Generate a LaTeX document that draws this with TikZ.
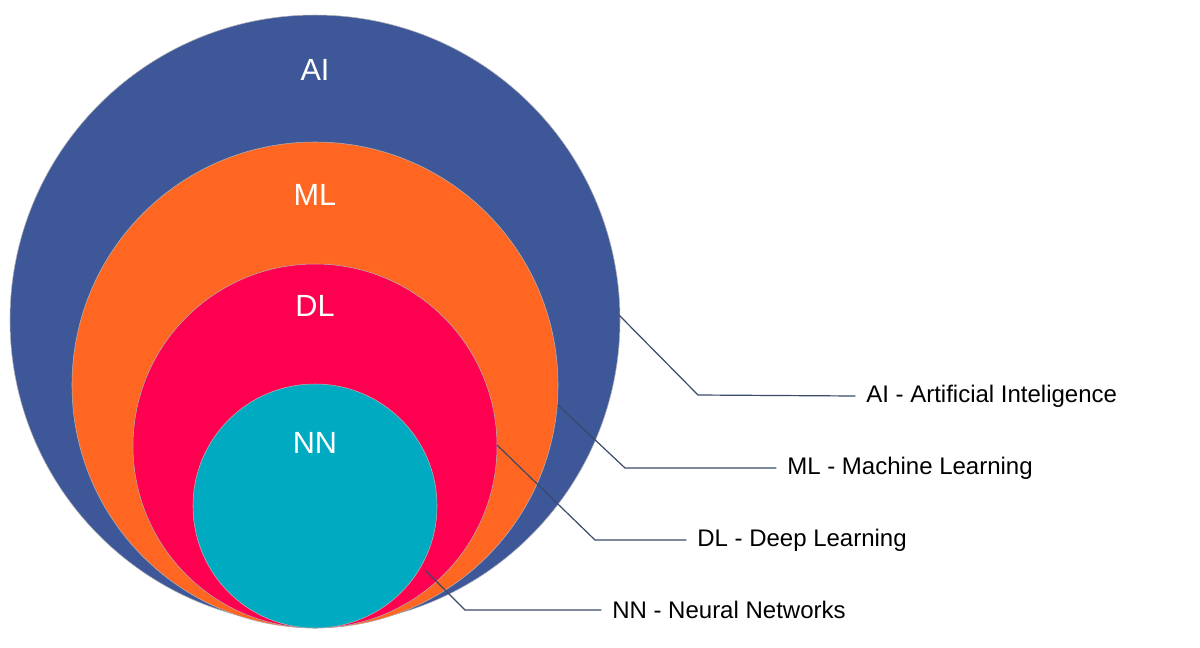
\documentclass[tikz,border=0pt]{standalone}
\usepackage{fontspec}
\setmainfont{Liberation Sans}
\definecolor{cai}{HTML}{3D5799}
\definecolor{cml}{HTML}{FF6622}
\definecolor{cdl}{HTML}{FF0050}
\definecolor{cnn}{HTML}{00AAC0}
\definecolor{cln}{HTML}{3A4A6A}
\begin{document}
\begin{tikzpicture}[x=0.75pt,y=-0.75pt,
  ring/.style={circle,draw=gray!60,line width=0.4pt,inner sep=0pt},
  big/.style={text=white,font=\fontsize{23}{27}\selectfont},
  lab/.style={anchor=west,font=\fontsize{18}{22}\selectfont,inner sep=0pt},
  ln/.style={draw=cln,line width=0.9pt}]
\useasboundingbox (0,0) rectangle (1200,647);
\fill[white] (0,0) rectangle (1200,647);
\node[ring,fill=cai,minimum size=610*0.75pt] (ai) at (315,320) {};
\node[ring,fill=cml,minimum size=486*0.75pt] (ml) at (315,385) {};
\node[ring,fill=cdl,minimum size=364*0.75pt] (dl) at (315,446) {};
\node[ring,fill=cnn,minimum size=244*0.75pt] (nn) at (315,506) {};
\node[big] (tai) at (315,70) {AI};
\node[big] (tml) at (315,195) {ML};
\node[big] (tdl) at (315,306) {DL};
\node[big] (tnn) at (315,443) {NN};
\node[lab] (lai) at (866,396) {AI - Artificial Inteligence};
\node[lab] (lml) at (787,468) {ML - Machine Learning};
\node[lab] (ldl) at (697,540) {DL - Deep Learning};
\node[lab] (lnn) at (612,610) {NN - Neural Networks};
\coordinate (eai) at (619,315);
\coordinate (eml) at (558,405);
\coordinate (edl) at (497,445);
\coordinate (enn) at (425,570);
\draw[ln] (eai) -- (698,395) -- ([xshift=-8pt]lai.west);
\draw[ln] (eml) -- (625,468) -- ([xshift=-8pt]lml.west);
\draw[ln] (edl) -- (595,540) -- ([xshift=-8pt]ldl.west);
\draw[ln] (enn) -- (465,610) -- ([xshift=-8pt]lnn.west);
\end{tikzpicture}
\end{document}
